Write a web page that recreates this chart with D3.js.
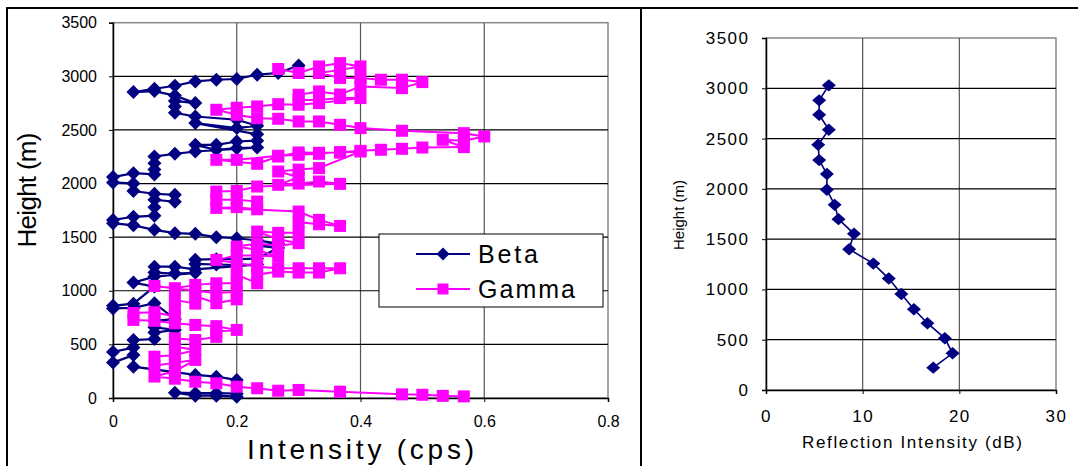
<!DOCTYPE html>
<html>
<head>
<meta charset="utf-8">
<script src="https://cdn.jsdelivr.net/npm/d3@7"></script>
<style>
  body { margin: 0; background: #fff; }
  svg { display: block; font-family: "Liberation Sans", Arial, sans-serif; }
</style>
</head>
<body>
<div id="chart"></div>
<script>
// left panel: counting rates per height (two series, drawn in data order)
var betaCps = [0.300,0.267,0.233,0.200,0.167,0.133,0.100,0.067,0.033,
    0.067,0.100,0.133,0.100,0.100,0.100,0.133,0.200,0.233,0.200,0.133,
    0.233,0.233,0.200,0.167,0.133,0.167,0.200,0.233,0.133,0.100,0.067,
    0.067,0.067,0.067,0.033,0.000,0.000,0.033,0.033,0.067,0.100,0.100,
    0.067,0.067,0.067,0.033,0.000,0.000,0.033,0.067,0.100,0.133,0.167,
    0.200,0.233,0.267,0.233,0.267,0.233,0.200,0.167,0.133,0.133,0.167,
    0.200,0.233,0.133,0.100,0.067,0.067,0.100,0.133,0.067,0.033,0.067,
    0.033,0.000,0.000,0.033,0.067,0.100,0.067,0.067,0.100,0.067,0.067,
    0.033,0.033,0.000,0.000,0.033,0.033,0.133,0.167,0.200,0.200,0.167,
    0.133,0.100,0.133,0.167,0.200];
var betaHeight = [3101,3031,3015,2975,2968,2952,2912,2884,2853,
    2862,2820,2750,2770,2719,2660,2625,2595,2540,2517,2564,
    2460,2400,2392,2361,2361,2315,2330,2335,2299,2277,2252,
    2190,2130,2085,2097,2060,2010,2000,1930,1905,1895,1830,
    1850,1780,1700,1690,1660,1630,1610,1568,1537,1531,1500,
    1490,1470,1440,1420,1400,1300,1295,1295,1290,1250,1245,
    1240,1245,1200,1225,1225,1170,1160,1167,1132,1076,1039,
    880,860,835,840,884,735,720,660,635,610,550,
    540,470,430,330,400,292,215,199,168,40,45,
    45,50,22,22,12];

var gammaCps = [0.267,0.300,0.333,0.367,0.400,0.367,0.333,0.367,0.400,0.433,
    0.467,0.500,0.467,0.400,0.367,0.333,0.300,0.300,0.333,0.367,
    0.400,0.333,0.300,0.267,0.233,0.200,0.167,0.200,0.233,0.267,
    0.300,0.333,0.367,0.400,0.467,0.567,0.600,0.567,0.533,0.567,
    0.500,0.467,0.433,0.400,0.367,0.333,0.300,0.267,0.200,0.167,
    0.233,0.267,0.300,0.333,0.367,0.400,0.333,0.300,0.267,0.300,
    0.267,0.300,0.333,0.367,0.233,0.200,0.167,0.167,0.200,0.233,
    0.233,0.200,0.167,0.300,0.333,0.367,0.333,0.300,0.300,0.267,
    0.233,0.267,0.300,0.267,0.233,0.200,0.233,0.267,0.233,0.200,
    0.167,0.200,0.233,0.267,0.300,0.333,0.367,0.333,0.300,0.267,
    0.233,0.233,0.200,0.200,0.167,0.133,0.100,0.067,0.133,0.167,
    0.200,0.200,0.167,0.133,0.133,0.100,0.100,0.100,0.067,0.033,
    0.033,0.067,0.100,0.133,0.167,0.200,0.167,0.167,0.133,0.100,
    0.100,0.133,0.100,0.067,0.067,0.100,0.133,0.100,0.067,0.100,
    0.133,0.167,0.200,0.233,0.267,0.300,0.367,0.467,0.500,0.533,0.567];
var gammaHeight = [3068,3031,3092,3123,3092,3060,3031,2984,2984,2968,
    2968,2946,2890,2906,2830,2859,2828,2780,2780,2797,
    2797,2750,2735,2740,2719,2707,2688,2641,2610,2604,
    2579,2579,2548,2517,2492,2470,2439,2400,2408,2340,
    2336,2324,2315,2305,2293,2277,2268,2259,2221,2221,
    2184,2252,2290,2287,2289,2299,2144,2130,2112,2060,
    1988,2000,2019,1997,1972,1930,1925,1850,1850,1832,
    1760,1780,1773,1739,1661,1605,1620,1640,1540,1540,
    1552,1480,1444,1420,1440,1412,1380,1319,1330,1330,
    1288,1260,1225,1210,1210,1210,1210,1170,1170,1179,
    1150,1070,1150,1070,1070,1055,1024,1045,1000,980,
    990,920,884,950,880,915,830,760,800,793,
    728,720,697,681,670,635,620,570,541,557,
    480,448,400,385,300,330,355,250,200,180,
    152,137,105,91,68,75,59,34,30,20,15];

// right panel: reflection profile
var radarDb = [6.5,5.5,5.5,6.5,5.4,5.5,6.3,6.3,7.1,7.5,9.1,8.6,11.1,12.7,14.0,15.3,16.7,18.5,19.3,17.3];
var radarHeight = [3029,2880,2737,2588,2439,2286,2147,1991,1841,1699,1553,1400,1257,1108,955,803,664,514,365,222];

var heightTicks = [0,500,1000,1500,2000,2500,3000,3500];
var cpsTicks = [0,0.2,0.4,0.6,0.8];
var cpsTickLabels = ["0","0.2","0.4","0.6","0.8"];
var dbTicks = [0,10,20,30];
var seriesNames = ["Beta","Gamma"];

var svgWidth = 1078;
var svgHeight = 466;

var svg = d3.select("#chart")
    .append("svg")
    .attr("width", svgWidth)
    .attr("height", svgHeight);

// chart object frames
svg.append("path")
    .attr("d", "M7,466 V8 H1078 M641,8 V466")
    .attr("fill", "none")
    .attr("stroke", "#000")
    .attr("stroke-width", 2);

var diamond = function(w, h) {
    return "M0," + (-h) + "L" + w + ",0L0," + h + "L" + (-w) + ",0Z";
};

function drawFrame(g, x, y, xTicks) {
    var x0 = x.range()[0], x1 = x.range()[1];
    var y0 = y.range()[0], y1 = y.range()[1];
    g.append("rect")
        .attr("x", x0).attr("y", y1)
        .attr("width", x1 - x0).attr("height", y0 - y1)
        .attr("fill", "#fff")
        .attr("stroke", "#888")
        .attr("stroke-width", 1.5);
    g.selectAll("line.vgrid")
        .data(xTicks.slice(1, -1))
        .enter().append("line")
        .attr("class", "vgrid")
        .attr("x1", d => x(d)).attr("x2", d => x(d))
        .attr("y1", y1).attr("y2", y0)
        .attr("stroke", "#555").attr("stroke-width", 1.2);
    g.selectAll("line.hgrid")
        .data(heightTicks.slice(1, -1))
        .enter().append("line")
        .attr("class", "hgrid")
        .attr("x1", x0).attr("x2", x1)
        .attr("y1", d => y(d)).attr("y2", d => y(d))
        .attr("stroke", "#000").attr("stroke-width", 1.2);
}

// ---------- left chart ----------
var xL = d3.scaleLinear().domain([0, 0.8]).range([113, 608]);
var yL = d3.scaleLinear().domain([0, 3500]).range([398, 22.7]);

var left = svg.append("g");
drawFrame(left, xL, yL, cpsTicks);

var leftAxisL = left.append("g")
    .attr("transform", "translate(113,0)")
    .call(d3.axisLeft(yL).tickValues(heightTicks).tickSize(4).tickPadding(12)
        .tickFormat(d3.format("d")));
var bottomAxisL = left.append("g")
    .attr("transform", "translate(0,398)")
    .call(d3.axisBottom(xL).tickValues(cpsTicks).tickSize(4).tickPadding(14)
        .tickFormat((d, i) => cpsTickLabels[i]));
[leftAxisL, bottomAxisL].forEach(function(a) {
    a.select(".domain").attr("stroke", "#000").attr("stroke-width", 1.5);
    a.selectAll("text").style("font-size", "16px").attr("fill", "#000");
});

var lineL = d3.line().x(d => xL(d[0])).y(d => yL(d[1]));
var betaPts = betaCps.map((v, i) => [v, betaHeight[i]]);
var gammaPts = gammaCps.map((v, i) => [v, gammaHeight[i]]);

left.append("path")
    .datum(betaPts)
    .attr("d", lineL)
    .attr("fill", "none")
    .attr("stroke", "#000080")
    .attr("stroke-width", 2.2);
left.selectAll("path.beta")
    .data(betaPts)
    .enter().append("path")
    .attr("class", "beta")
    .attr("d", diamond(7, 7))
    .attr("transform", d => `translate(${xL(d[0])},${yL(d[1])})`)
    .attr("fill", "#000080");

left.append("path")
    .datum(gammaPts)
    .attr("d", lineL)
    .attr("fill", "none")
    .attr("stroke", "#FF00FF")
    .attr("stroke-width", 2);
left.selectAll("rect.gamma")
    .data(gammaPts)
    .enter().append("rect")
    .attr("class", "gamma")
    .attr("x", d => xL(d[0]) - 6)
    .attr("y", d => yL(d[1]) - 6)
    .attr("width", 12).attr("height", 12)
    .attr("fill", "#FF00FF");

// legend
var legend = left.append("g");
legend.append("rect")
    .attr("x", 379).attr("y", 234)
    .attr("width", 224).attr("height", 73)
    .attr("fill", "#fff").attr("stroke", "#000").attr("stroke-width", 1);
var legRows = legend.selectAll("g.item")
    .data(seriesNames)
    .enter().append("g")
    .attr("class", "item")
    .attr("transform", (d, i) => `translate(0,${254 + i * 35})`);
legRows.append("line")
    .attr("x1", 416).attr("x2", 470)
    .attr("stroke", (d, i) => i ? "#FF00FF" : "#000080")
    .attr("stroke-width", 2);
legRows.append("path")
    .attr("d", (d, i) => i ? "M-5.5,-5.5h11v11h-11Z" : diamond(6.5, 6.5))
    .attr("transform", "translate(443,0)")
    .attr("fill", (d, i) => i ? "#FF00FF" : "#000080");
legRows.append("text")
    .attr("x", 478).attr("y", 8.5)
    .attr("textLength", (d, i) => i ? 97 : 60)
    .attr("lengthAdjust", "spacing")
    .style("font-size", "25px")
    .text(d => d);

left.append("text")
    .attr("transform", "translate(36,190) rotate(-90)")
    .attr("text-anchor", "middle")
    .attr("textLength", 115)
    .attr("lengthAdjust", "spacing")
    .style("font-size", "26px")
    .text("Height (m)");
left.append("text")
    .attr("x", 247).attr("y", 459)
    .attr("textLength", 227)
    .attr("lengthAdjust", "spacing")
    .style("font-size", "28px")
    .text("Intensity (cps)");

// ---------- right chart ----------
var xR = d3.scaleLinear().domain([0, 30]).range([766, 1056]);
var yR = d3.scaleLinear().domain([0, 3500]).range([390, 38]);

var right = svg.append("g");
drawFrame(right, xR, yR, dbTicks);

var leftAxisR = right.append("g")
    .attr("transform", "translate(766,0)")
    .call(d3.axisLeft(yR).tickValues(heightTicks).tickSize(4).tickPadding(14)
        .tickFormat(d3.format("d")));
var bottomAxisR = right.append("g")
    .attr("transform", "translate(0,390)")
    .call(d3.axisBottom(xR).tickValues(dbTicks).tickSize(4).tickPadding(16)
        .tickFormat(d3.format("d")));
[leftAxisR, bottomAxisR].forEach(function(a) {
    a.select(".domain").attr("stroke", "#000").attr("stroke-width", 1.5);
    a.selectAll("text").style("font-size", "17px").style("letter-spacing", "1.5px").attr("fill", "#000");
});
leftAxisR.selectAll("text").attr("dx", "1.5px");

var radarPts = radarDb.map((v, i) => [v, radarHeight[i]]);
right.append("path")
    .datum(radarPts)
    .attr("d", d3.line().x(d => xR(d[0])).y(d => yR(d[1])))
    .attr("fill", "none")
    .attr("stroke", "#000080")
    .attr("stroke-width", 1.6);
right.selectAll("path.radar")
    .data(radarPts)
    .enter().append("path")
    .attr("class", "radar")
    .attr("d", diamond(7, 6.2))
    .attr("transform", d => `translate(${xR(d[0])},${yR(d[1])})`)
    .attr("fill", "#000080");

right.append("text")
    .attr("transform", "translate(684,215) rotate(-90)")
    .attr("text-anchor", "middle")
    .attr("textLength", 70)
    .attr("lengthAdjust", "spacing")
    .style("font-size", "15px")
    .text("Height (m)");
right.append("text")
    .attr("x", 802).attr("y", 448)
    .attr("textLength", 220)
    .attr("lengthAdjust", "spacing")
    .style("font-size", "17px")
    .text("Reflection Intensity (dB)");
</script>
</body>
</html>
